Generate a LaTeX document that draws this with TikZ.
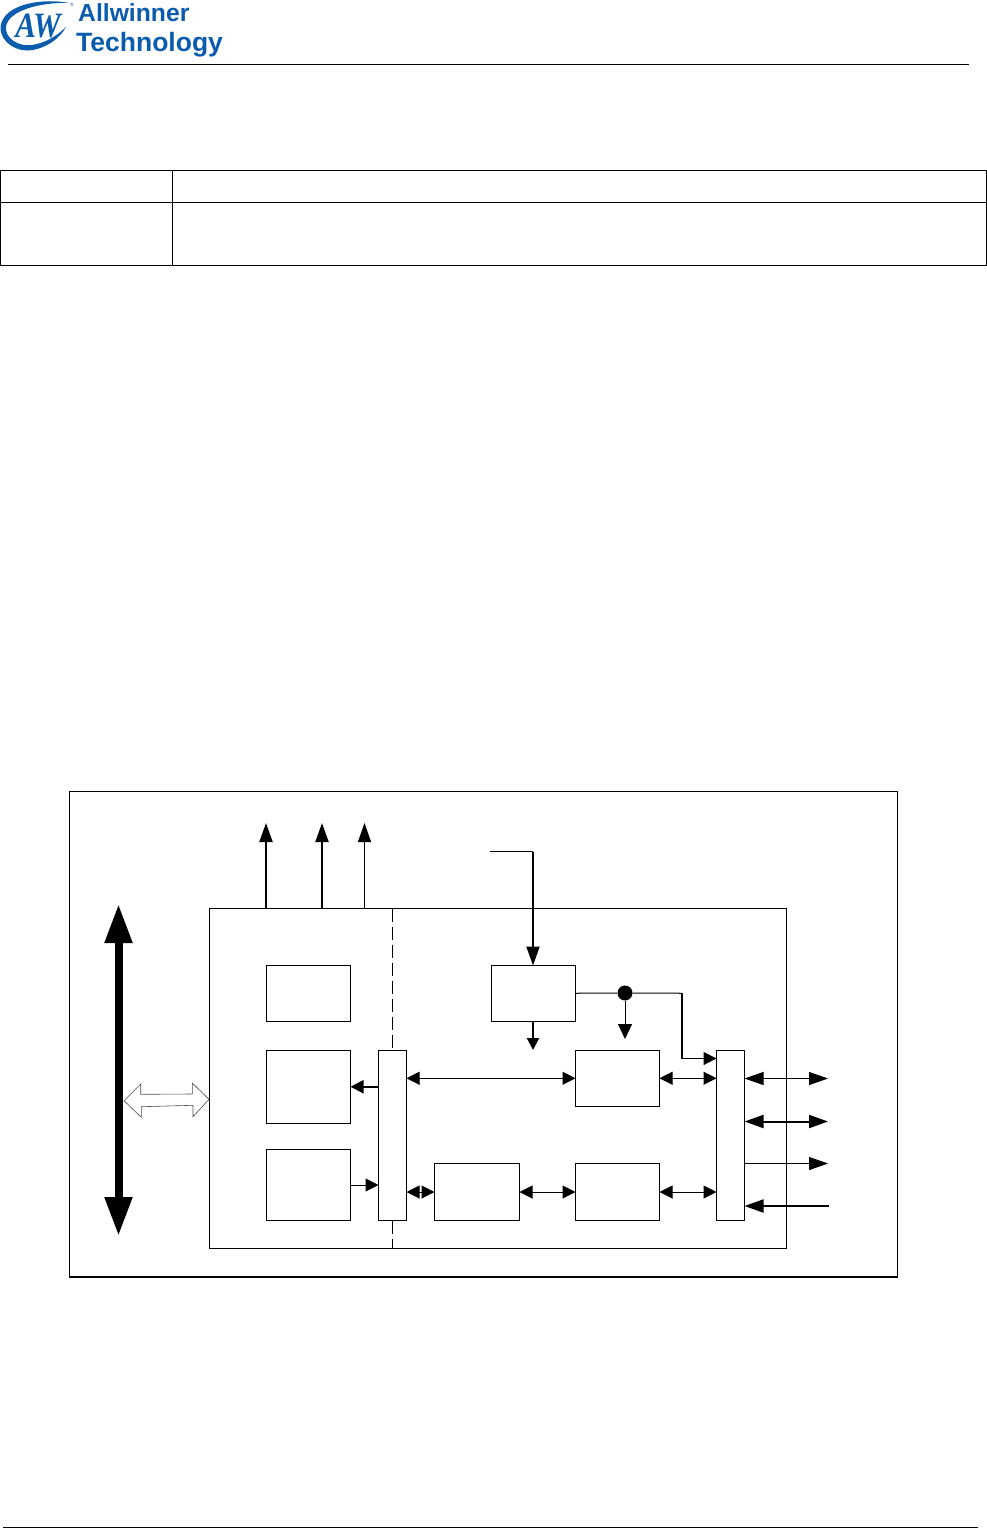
\documentclass[tikz,border=0pt]{standalone}
\usepackage{fontspec}
\setmainfont{Liberation Sans}
\newfontfamily\logoserif{Liberation Serif}
\usetikzlibrary{arrows.meta}
\definecolor{logoblue}{HTML}{0B5CAD}

\begin{document}
\begin{tikzpicture}[x=1pt, y=-1pt,
    box/.style={draw, line width=1pt, minimum width=84pt, inner sep=0pt, outer sep=0pt},
    bus/.style={box, minimum width=28pt, minimum height=170pt},
    small/.style={line width=1pt, {Triangle[length=13pt,width=13pt]}-{Triangle[length=13pt,width=13pt]}},
    smallout/.style={line width=1pt, -{Triangle[length=13pt,width=13pt]}},
    large/.style={line width=1pt, {Triangle[length=19pt,width=13pt]}-{Triangle[length=19pt,width=13pt]}},
    largeout/.style={line width=1pt, -{Triangle[length=19pt,width=13pt]}}]

    \useasboundingbox (0,0) rectangle (987,1528);

    % Dibujar el logotipo
    \fill[logoblue] (69,3) .. controls (45,-2) and (3,3) .. (0.5,27) .. controls (0,43) and (18,53) .. (33,50)
        .. controls (48,47) and (60,38) .. (66,27) .. controls (58,35) and (46,43) .. (32,45)
        .. controls (18,47) and (5,38) .. (6,27) .. controls (8,10) and (42,2) .. (69,3) -- cycle;
    \node[logoblue, inner sep=0pt, yscale=1.15, font={\logoserif\bfseries\itshape\fontsize{31}{31}\selectfont}] (logoaw) at (38,26) {AW};
    \node[logoblue, inner sep=0pt, font=\fontsize{5}{5}\selectfont] (logomark) at (72,5) {®};
    \node[logoblue, anchor=base west, inner sep=0pt, font=\bfseries\fontsize{24.7}{24.7}\selectfont] (logoa) at (78,22) {Allwinner};
    \node[logoblue, anchor=base west, inner sep=0pt, font=\bfseries\fontsize{26.5}{26.5}\selectfont] (logot) at (76,51.5) {Technology};

    % Dibujar las reglas de cabecera y pie
    \draw[line width=1pt] (8,64.5) -- (969,64.5);
    \draw[line width=1pt] (3,1527) -- (978,1527);

    % Dibujar la tabla
    \draw[line width=1pt] (0.5,170.5) rectangle (986.5,265.5);
    \draw[line width=1pt] (0.5,202) -- (986.5,202);
    \draw[line width=1pt] (172.5,170.5) -- (172.5,265.5);

    % Dibujar los marcos
    \draw[line width=1pt] (69,791) rectangle (897,1277);
    \draw[line width=2pt] (69,1276.5) -- (897,1276.5);
    \draw[line width=1pt] (209,908.5) rectangle (786,1248);

    % Dibujar la linea discontinua
    \draw[line width=1pt, dash pattern=on 13pt off 5pt] (392.5,908.5) -- (392.5,1050.5);
    \draw[line width=1pt, dash pattern=on 13pt off 5pt] (392.5,1220.5) -- (392.5,1248);

    % Dibujar los bloques
    \node[box, minimum height=55.5pt] (boxa) at (308.5,993.25) {};
    \node[box, minimum height=72.5pt] (boxb) at (308.5,1086.75) {};
    \node[box, minimum height=71pt] (boxc) at (308.5,1185) {};
    \node[box, minimum height=55.5pt] (boxd) at (533.5,993.25) {};
    \node[box, minimum height=55.5pt] (boxe) at (617.5,1078.25) {};
    \node[box, minimum width=85pt, minimum height=57pt] (boxf) at (477,1192) {};
    \node[box, minimum height=57pt] (boxg) at (617.5,1192) {};
    \node[bus] (busl) at (392.5,1135.5) {};
    \node[bus] (busr) at (730.5,1135.5) {};

    % Definir los extremos libres
    \coordinate (upa) at (266,823);
    \coordinate (upb) at (322,823);
    \coordinate (upc) at (364.5,823);
    \coordinate (framea) at (266,908.5);
    \coordinate (frameb) at (322,908.5);
    \coordinate (framec) at (364.5,908.5);
    \coordinate (clkin) at (490,851.5);
    \coordinate (clkbend) at (533,851.5);
    \coordinate (clkend) at (533,965.5);
    \coordinate (clkout) at (533,1021);
    \coordinate (clkdown) at (533,1050);
    \coordinate (clkpe) at (625,1039);
    \coordinate (outa) at (828,1078.5);
    \coordinate (outb) at (828,1121.5);
    \coordinate (outc) at (828,1163.5);
    \coordinate (outd) at (829,1206);
    \coordinate (sysa) at (118.5,904);
    \coordinate (sysb) at (118.5,1236);

    % Dibujar la flecha del bus principal
    \draw[line width=8pt, {Triangle[length=39pt,width=26pt]}-{Triangle[length=39pt,width=26pt]}] (sysa) -- (sysb);

    % Dibujar la flecha hueca
    \draw[line width=0.6pt, fill=white, draw=black!70] (124,1100.7) -- (140.7,1084) -- (140.7,1094.3) -- (192.3,1094)
        -- (192.3,1083) -- (209,1099.3) -- (193,1116.7) -- (193,1105.3) -- (141.3,1106.7) -- (141.3,1117.3) -- cycle;

    % Dibujar las salidas superiores
    \draw[largeout, line width=2pt] (framea) -- (upa);
    \draw[largeout, line width=2pt] (frameb) -- (upb);
    \draw[largeout] (framec) -- (upc);

    % Dibujar la entrada superior
    \draw[line width=1pt] (clkin) -- (clkbend);
    \draw[largeout, line width=2pt] (clkbend) -- (clkend);

    % Dibujar las salidas del bloque superior
    \draw[line width=2pt, -{Triangle[length=12pt,width=12pt]}] (clkout) -- (clkdown);
    \node[circle, fill=black, inner sep=0pt, minimum size=15pt] (dot) at (625,993) {};
    \draw[line width=1pt] (boxd.east) -- (dot);
    \draw[line width=1pt, -{Triangle[length=15pt,width=14pt]}] (dot) -- (clkpe);
    \draw[line width=1pt] (dot) -- (682,993.25);
    \draw[line width=2pt] (682,993.25) -- (682,1058.5);
    \draw[smallout] (682,1058.5) -- (busr.west |- 0,1058.5);

    % Dibujar las conexiones internas
    \draw[line width=2pt, -{Triangle[length=13pt,width=13pt]}] (busl.west |- boxb.east) -- (boxb.east);
    \draw[smallout] (boxc.east) -- (busl.west |- boxc.east);
    \draw[small] (busl.east |- boxf.west) -- (boxf.west);
    \draw[small] (busl.east |- boxe.west) -- (boxe.west);
    \draw[small] (boxe.east) -- (busr.west |- boxe.east);
    \draw[small] (boxf.east) -- (boxg.west);
    \draw[small] (boxg.east) -- (busr.west |- boxg.east);

    % Dibujar las conexiones hacia fuera
    \draw[large] (busr.east |- outa) -- (outa);
    \draw[large, line width=2pt] (busr.east |- outb) -- (outb);
    \draw[largeout] (busr.east |- outc) -- (outc);
    \draw[largeout, line width=2pt] (outd) -- (busr.east |- outd);

\end{tikzpicture}
\end{document}
